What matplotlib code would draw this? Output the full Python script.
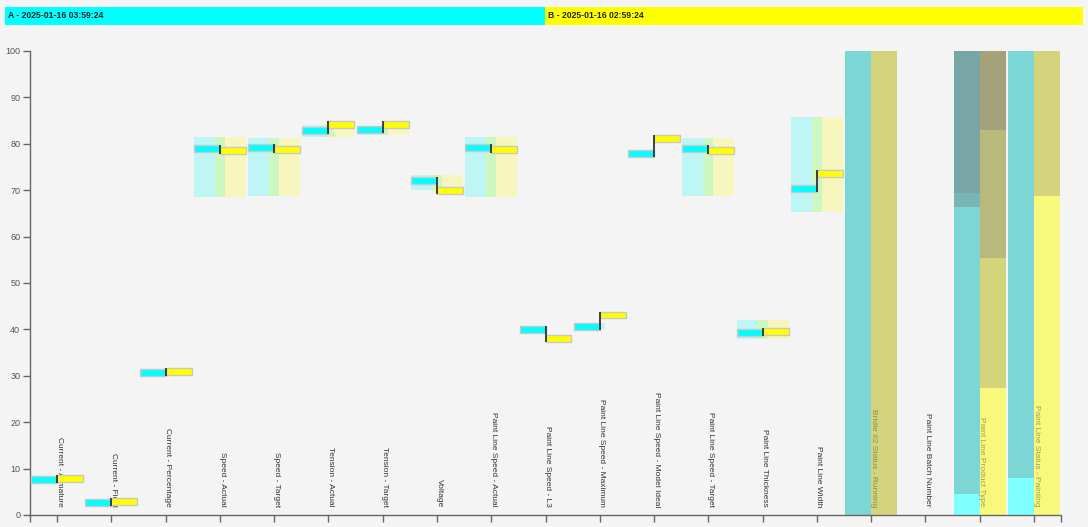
import numpy as np
import matplotlib
matplotlib.use("Agg")
import matplotlib.pyplot as plt
from matplotlib.patches import Rectangle

plt.rcParams['font.family'] = ['Liberation Sans', 'DejaVu Sans']

categories = ["Current - Armature", "Current - Field", "Current - Percentage",
              "Speed - Actual", "Speed - Target", "Tension - Actual", "Tension - Target",
              "Voltage", "Paint Line Speed - Actual", "Paint Line Speed - L3",
              "Paint Line Speed - Maximum", "Paint Line Speed - Model Ideal",
              "Paint Line Speed - Target", "Paint Line Thickness", "Paint Line Width",
              "Bridle #2 Status - Running", "Paint Line Batch Number",
              "Paint Line Product Type", "Paint Line Status - Painting"]

nan = np.nan
# numeric values (A = 2025-01-16 03:59:24, B = 2025-01-16 02:59:24)
value_A = [7.6, 2.7, 30.7, 79.0, 79.2, 82.8, 83.1, 72.1, 79.1, 40.0, 40.6, 77.9, 79.0, 39.3, 70.3]
value_B = [7.9, 2.9, 31.0, 78.6, 78.8, 84.1, 84.1, 69.9, 78.7, 38.0, 43.1, 81.1, 78.6, 39.5, 73.5]
range_A_low = [nan, nan, nan, 68.5, 68.8, 81.5, 82.0, 70.0, 68.5, nan, 40.0, nan, 68.8, 38.0, 65.3]
range_A_high = [nan, nan, nan, 81.5, 81.2, 84.0, 83.5, 73.3, 81.5, nan, 41.3, nan, 81.3, 42.0, 85.8]
range_B_low = [nan, nan, nan, 68.5, 68.8, 81.5, 82.0, 69.5, 68.5, nan, nan, nan, 68.8, 38.0, 65.3]
range_B_high = [nan, nan, nan, 81.5, 81.2, 84.3, 84.0, 73.3, 81.5, nan, nan, nan, 81.3, 42.0, 85.8]

# categorical columns: cumulative boundaries (percent) and segment colours
bridle_A_bounds = [0, 100]
bridle_A_colors = ['#7dd6d6']
bridle_B_bounds = [0, 100]
bridle_B_colors = ['#d4d47c']
product_A_bounds = [0, 4.5, 66.4, 69.4, 100]
product_A_colors = ['#80ffff', '#7dd6d6', '#7ab5b5', '#78a6a6']
product_B_bounds = [0, 27.4, 55.4, 83.0, 100]
product_B_colors = ['#f8f87c', '#d4d47c', '#b9b97c', '#a4a27a']
painting_A_bounds = [0, 8.0, 100]
painting_A_colors = ['#80ffff', '#7dd6d6']
painting_B_bounds = [0, 68.8, 100]
painting_B_colors = ['#f8f87c', '#d4d47c']

stacked = {
    15: (bridle_A_bounds, bridle_A_colors, bridle_B_bounds, bridle_B_colors),
    17: (product_A_bounds, product_A_colors, product_B_bounds, product_B_colors),
    18: (painting_A_bounds, painting_A_colors, painting_B_bounds, painting_B_colors),
}

header_A = "A - 2025-01-16 03:59:24"
header_B = "B - 2025-01-16 02:59:24"

W, H = 1088, 527
bg = '#f4f4f4'
fig = plt.figure(figsize=(W / 100, H / 100), dpi=100, facecolor=bg)
ax = fig.add_axes([30 / W, (H - 515) / H, (1061 - 30) / W, (515 - 51) / H])
ax.set_facecolor(bg)

n = len(categories)
ax.set_xlim(0, n)
ax.set_ylim(0, 100)
half = 0.479
bar_h = 1.5

for i in range(len(value_A)):
    c = i + 0.5
    # range boxes
    if not np.isnan(range_A_low[i]):
        ax.add_patch(Rectangle((c - half, range_A_low[i]), 2 * half * 0.6,
                               range_A_high[i] - range_A_low[i],
                               facecolor='#00ffff', alpha=0.22, lw=0, zorder=2))
    if not np.isnan(range_B_low[i]):
        ax.add_patch(Rectangle((c - half + 2 * half * 0.4, range_B_low[i]), 2 * half * 0.6,
                               range_B_high[i] - range_B_low[i],
                               facecolor='#ffff00', alpha=0.22, lw=0, zorder=2.1))
    a, b = value_A[i], value_B[i]
    ax.add_patch(Rectangle((c - half, a - bar_h / 2), half, bar_h,
                           facecolor='#00ffff', edgecolor='#c8c8c8', lw=1, zorder=6))
    ax.add_patch(Rectangle((c, b - bar_h / 2), half, bar_h,
                           facecolor='#ffff00', edgecolor='#c8c8c8', lw=1, zorder=6))
    lo = min(a, b) - bar_h / 2
    hi = max(a, b) + bar_h / 2
    ax.plot([c, c], [lo, hi], color='#333333', lw=1.3, zorder=7, solid_capstyle='butt')

for i, (ab, ac, bb, bc) in stacked.items():
    c = i + 0.5
    for k in range(len(ac)):
        ax.add_patch(Rectangle((c - half, ab[k]), half, ab[k + 1] - ab[k],
                               facecolor=ac[k], lw=0, zorder=2))
    for k in range(len(bc)):
        ax.add_patch(Rectangle((c, bb[k]), half, bb[k + 1] - bb[k],
                               facecolor=bc[k], lw=0, zorder=2))

for i, name in enumerate(categories):
    alpha = 0.45 if i in stacked else 1.0
    ax.text(i + 0.5 + 0.04, 1.7, name, rotation=-90, ha='center', va='bottom',
            fontsize=6.0, color='#333333', alpha=alpha, zorder=5)

ax.set_xticks([i + 0.5 for i in range(n)])
ax.set_xticklabels([])
ax.set_xticks([0, n], minor=True)
ax.tick_params(axis='x', which='both', length=5, color='#666666', width=1)
ax.set_yticks(range(0, 101, 10))
ax.tick_params(axis='y', length=5, color='#666666', width=1, labelsize=6.5,
               labelcolor='#555555', pad=2)
for s in ['top', 'right']:
    ax.spines[s].set_visible(False)
for s in ['left', 'bottom']:
    ax.spines[s].set_color('#666666')
    ax.spines[s].set_linewidth(1)

# header strip
fig.add_artist(Rectangle((5 / W, (H - 25) / H), (545 - 5) / W, 18 / H,
                         transform=fig.transFigure, facecolor='#00ffff', lw=0))
fig.add_artist(Rectangle((545 / W, (H - 25) / H), (1083 - 545) / W, 18 / H,
                         transform=fig.transFigure, facecolor='#ffff00', lw=0))
fig.text(8 / W, (H - 16) / H, header_A, fontsize=6.2, fontweight='bold',
         color='#222222', va='center', ha='left')
fig.text(548 / W, (H - 16) / H, header_B, fontsize=6.2, fontweight='bold',
         color='#222222', va='center', ha='left')

fig.savefig('out.png', dpi=100, facecolor=bg)
